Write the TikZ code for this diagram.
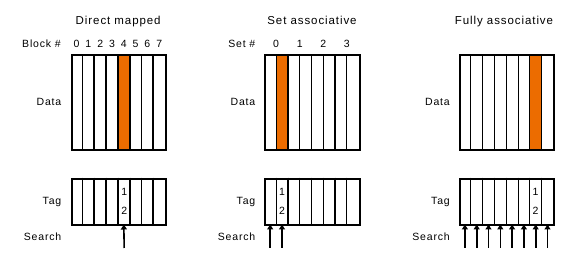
\documentclass[tikz,border=0pt]{standalone}
\usepackage{fontspec}
\setmainfont{Liberation Sans}[LetterSpace=8]
\usetikzlibrary{arrows.meta}
\definecolor{hit}{RGB}{236,108,0}
\tikzset{
  box/.style={rectangle, draw=black, line width=2pt, inner sep=0pt, minimum width=94.4pt},
  thickdiv/.style={draw=black, line width=1.8pt},
  thindiv/.style={draw=black, line width=1pt},
  cell/.style={rectangle, inner sep=0pt, minimum width=11.8pt, minimum height=46.6pt},
  txt/.style={inner sep=0pt, text height=7.5pt, text depth=0pt, font=\fontsize{10.5}{12}\selectfont},
  lbl/.style={txt, anchor=east},
  ttl/.style={inner sep=0pt, text height=8.2pt, text depth=0pt, font=\fontsize{11.5}{13}\selectfont},
  searcharrow/.style={-{Triangle[width=6pt,length=5pt]}, line width=1.6pt},
}
\begin{document}
\begin{tikzpicture}[x=1pt,y=-1pt]
\useasboundingbox (0,0) rectangle (574,259);
\fill[white] (0,0) rectangle (574,259);

% ---------- Panel 1: Direct mapped ----------
\fill[hit] (117.9,54.3) rectangle (129.7,149);
\foreach \k in {1,...,7} {
  \draw[thickdiv] ({70.7+11.8*\k},54.3) -- ({70.7+11.8*\k},149);
  \draw[thickdiv] ({70.7+11.8*\k},177.7) -- ({70.7+11.8*\k},224.3);
}
\node[box, minimum height=94.7pt, anchor=north west] (d1) at (70.7,54.3) {};
\node[box, minimum height=46.6pt, anchor=north west] (g1) at (70.7,177.7) {};
\foreach \i in {0,...,7} {
  \node[cell] (c1\i) at ({76.6+11.8*\i},201) {};
  \node[txt] (n1\i) at ({76.6+11.8*\i},44) {\i};
}
\node[ttl] (t1) at (118.2,20.7) {Direct mapped};
\node[lbl] (b1) at (61,44) {Block \#};
\node[lbl] (dl1) at (61.5,101.7) {Data};
\node[lbl] (tl1) at (61.5,201) {Tag};
\node[lbl] (sl1) at (61.5,236.7) {Search};
\node[txt] (o1) at (124.2,192) {1};
\node[txt] (w1) at (124.2,210.7) {2};
\coordinate (s14) at (124.2,248);
\draw[searcharrow] (s14) -- (c14.south);

% ---------- Panel 2: Set associative ----------
\fill[hit] (276.1,54.3) rectangle (287.9,149);
\foreach \k in {1,3,5,7} {
  \draw[thindiv] ({264.3+11.8*\k},54.3) -- ({264.3+11.8*\k},149);
  \draw[thindiv] ({264.3+11.8*\k},177.7) -- ({264.3+11.8*\k},224.3);
}
\foreach \k in {2,4,6} {
  \draw[thickdiv] ({264.3+11.8*\k},54.3) -- ({264.3+11.8*\k},149);
  \draw[thickdiv] ({264.3+11.8*\k},177.7) -- ({264.3+11.8*\k},224.3);
}
\node[box, minimum height=94.7pt, anchor=north west] (d2) at (264.3,54.3) {};
\node[box, minimum height=46.6pt, anchor=north west] (g2) at (264.3,177.7) {};
\foreach \i in {0,...,7} {
  \node[cell] (c2\i) at ({270.2+11.8*\i},201) {};
}
\foreach \s in {0,...,3} {
  \node[txt] (n2\s) at ({276.1+23.6*\s},44) {\s};
}
\node[ttl] (t2) at (312,20.7) {Set associative};
\node[lbl] (b2) at (255.5,44) {Set \#};
\node[lbl] (dl2) at (255.5,101.7) {Data};
\node[lbl] (tl2) at (255.5,201) {Tag};
\node[lbl] (sl2) at (255.5,236.7) {Search};
\node[txt] (o2) at (282,192) {1};
\node[txt] (w2) at (282,210.7) {2};
\foreach \i in {0,1} {
  \coordinate (s2\i) at ({270.2+11.8*\i},248);
  \draw[searcharrow] (s2\i) -- (c2\i.south);
}

% ---------- Panel 3: Fully associative ----------
\fill[hit] (529.8,54.3) rectangle (541.6,149);
\foreach \k in {1,...,7} {
  \draw[thindiv] ({459+11.8*\k},54.3) -- ({459+11.8*\k},149);
  \draw[thindiv] ({459+11.8*\k},177.7) -- ({459+11.8*\k},224.3);
}
\node[box, minimum height=94.7pt, anchor=north west] (d3) at (459,54.3) {};
\node[box, minimum height=46.6pt, anchor=north west] (g3) at (459,177.7) {};
\foreach \i in {0,...,7} {
  \node[cell] (c3\i) at ({464.9+11.8*\i},201) {};
  \coordinate (s3\i) at ({464.9+11.8*\i},248);
  \draw[searcharrow] (s3\i) -- (c3\i.south);
}
\node[ttl] (t3) at (504,20.7) {Fully associative};
\node[lbl] (dl3) at (450,101.7) {Data};
\node[lbl] (tl3) at (450,201) {Tag};
\node[lbl] (sl3) at (450,236.7) {Search};
\node[txt] (o3) at (535.5,192) {1};
\node[txt] (w3) at (535.5,210.7) {2};
\end{tikzpicture}
\end{document}
